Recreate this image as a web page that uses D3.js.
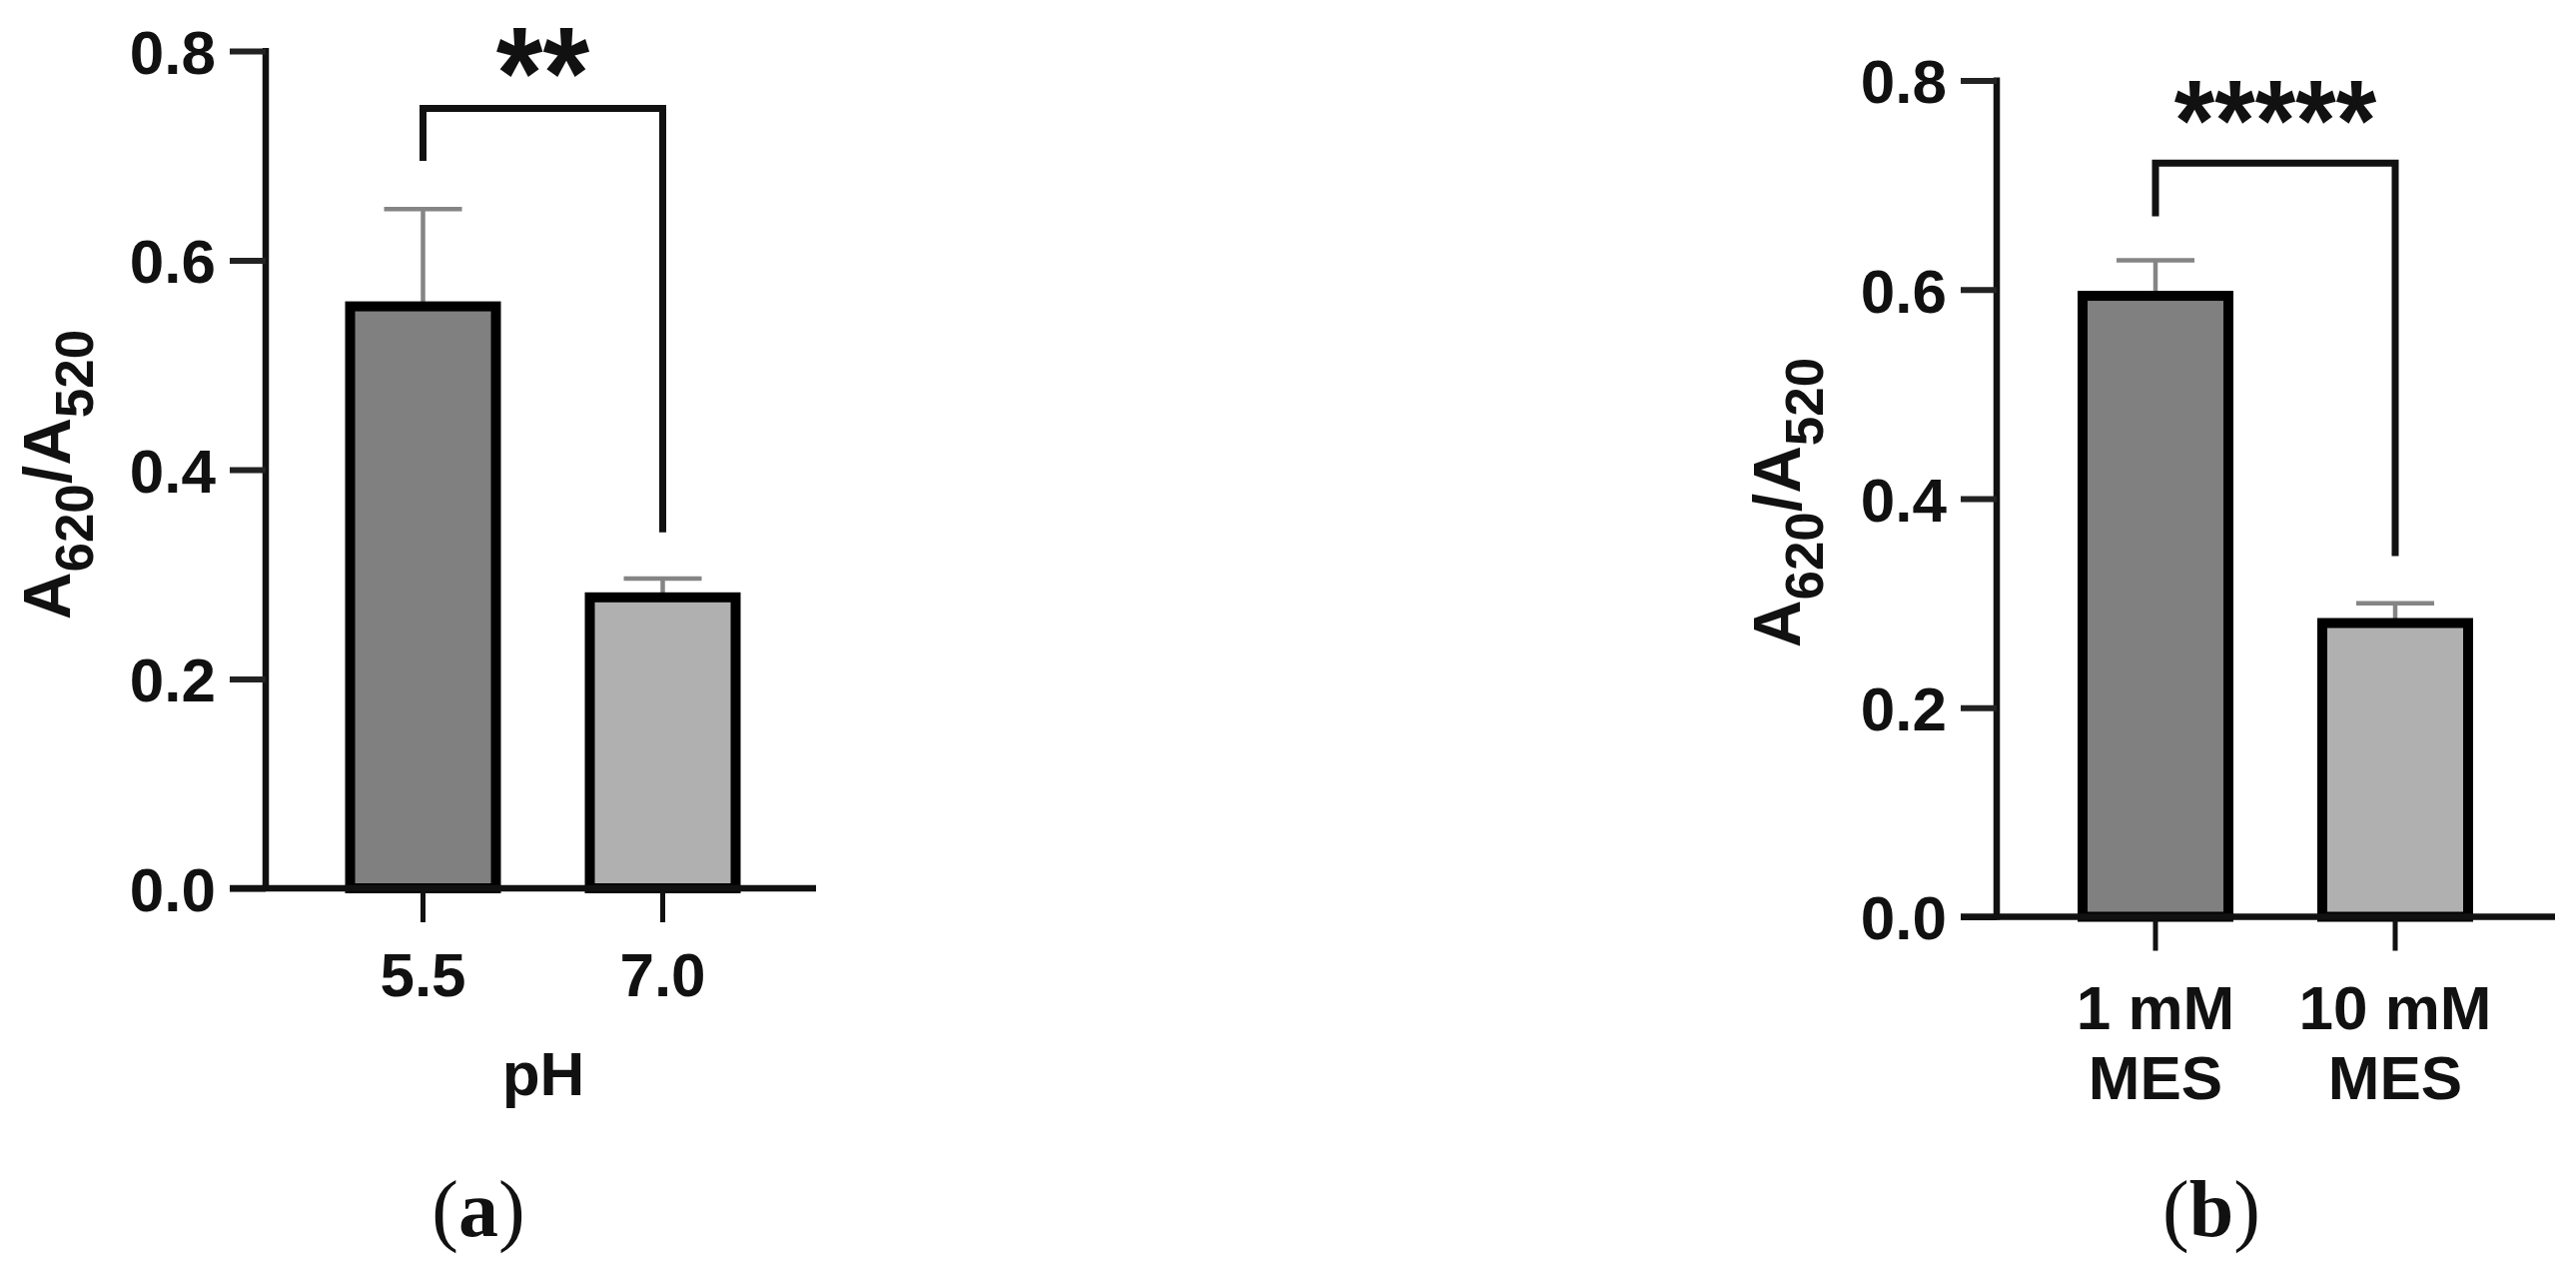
<!DOCTYPE html>
<html>
<head>
<meta charset="utf-8">
<script src="https://cdn.jsdelivr.net/npm/d3@7"></script>
<style>
  html, body { margin: 0; padding: 0; background: #fff; }
  svg { display: block; }
  text { font-family: "Liberation Sans", Arial, sans-serif; font-weight: bold; fill: #111; }
</style>
</head>
<body>
<script>
// ---------- data ----------
const yTicks = [0, 0.2, 0.4, 0.6, 0.8];
const barFills = ["#808080", "#b0b0b0"];

const catsA = ["5.5", "7.0"];
const meansA = [0.556, 0.278];
const sdA = [0.093, 0.018];
const sigA = "**";
// bracket: [y of bar, y of left leg end, y of right leg end]
const bracketA = [0.745, 0.695, 0.340];
const xTitleA = "pH";

const catsB = ["1 mM|MES", "10 mM|MES"];
const meansB = [0.594, 0.281];
const sdB = [0.034, 0.019];
const sigB = "*****";
const bracketB = [0.721, 0.670, 0.345];

// ---------- layout ----------
const W = 2579, H = 1282;
const svg = d3.select("body").append("svg").attr("width", W).attr("height", H);

function panel(o) {
  const g = svg.append("g");
  const y = d3.scaleLinear().domain([0, 0.8]).range([o.y0, o.y8]);
  const x = d3.scaleBand().domain(o.cats)
    .range([o.c1 - 120, o.c2 + 120])
    .paddingInner(1 - 146 / 240).paddingOuter((1 - 146 / 240) / 2);

  const data = o.cats.map((c, i) => ({ c, m: o.means[i], s: o.sd[i], f: barFills[i] }));
  g.selectAll("line.err").data(data).join("line")
    .attr("x1", d => x(d.c) + x.bandwidth() / 2).attr("x2", d => x(d.c) + x.bandwidth() / 2)
    .attr("y1", d => y(d.m)).attr("y2", d => y(d.m + d.s))
    .attr("stroke", "#858585").attr("stroke-width", 4.5);
  g.selectAll("line.cap").data(data).join("line")
    .attr("x1", d => x(d.c) + x.bandwidth() / 2 - 39).attr("x2", d => x(d.c) + x.bandwidth() / 2 + 39)
    .attr("y1", d => y(d.m + d.s)).attr("y2", d => y(d.m + d.s))
    .attr("stroke", "#858585").attr("stroke-width", 4.5);
  g.selectAll("rect.bar").data(data).join("rect")
    .attr("x", d => x(d.c)).attr("width", x.bandwidth())
    .attr("y", d => y(d.m)).attr("height", d => y(0) - y(d.m))
    .attr("fill", d => d.f).attr("stroke", "#000").attr("stroke-width", 10);

  // y axis
  const ya = g.append("g").attr("transform", `translate(${o.ax},0)`)
    .call(d3.axisLeft(y).tickValues(yTicks).tickFormat(d3.format(".1f"))
      .tickSize(36).tickSizeOuter(0).tickPadding(14));
  ya.selectAll("path.domain").attr("stroke", "#111").attr("stroke-width", 6.5)
    .attr("d", `M0,${y(0.8) - 3}V${y(0) + 3}`);
  ya.selectAll(".tick line").attr("stroke", "#222").attr("stroke-width", 6);
  ya.selectAll(".tick text").attr("font-size", o.fs).attr("dy", "0.36em").attr("fill", "#111");

  // x axis
  const xa = g.append("g").attr("transform", `translate(0,${y(0)})`)
    .call(d3.axisBottom(x).tickSize(34).tickSizeOuter(0).tickPadding(0));
  xa.select("path.domain").attr("stroke", "#111").attr("stroke-width", 6.5)
    .attr("d", `M${o.ax - 36},0H${o.xEnd}`);
  xa.selectAll(".tick line").attr("stroke", "#111").attr("stroke-width", 5);
  xa.selectAll(".tick text").each(function (d) {
    const t = d3.select(this).text(null).attr("font-size", o.fs).attr("fill", "#111")
      .attr("y", o.lab1).attr("dy", 0);
    d.split("|").forEach((s, i) => {
      t.append("tspan").attr("x", 0).attr("y", o.lab1 + i * 70).text(s);
    });
  });

  // y title
  const yt = g.append("text")
    .attr("transform", `translate(${o.ytX},${o.ytY}) rotate(-90)`)
    .attr("text-anchor", "middle").attr("font-size", 66);
  yt.append("tspan").text("A");
  yt.append("tspan").attr("font-size", 53).attr("dy", 23).text("620");
  yt.append("tspan").attr("dy", -23).text("/A");
  yt.append("tspan").attr("font-size", 53).attr("dy", 23).text("520");

  // x title
  if (o.xTitle) {
    g.append("text").attr("x", o.xtX).attr("y", o.xtY).attr("text-anchor", "middle")
      .attr("font-size", 62).text(o.xTitle);
  }

  // significance bracket
  const xl = x(o.cats[0]) + x.bandwidth() / 2, xr = x(o.cats[1]) + x.bandwidth() / 2;
  const by = y(o.br[0]);
  g.append("path")
    .attr("d", `M${xl},${y(o.br[1])}V${by}H${xr}V${y(o.br[2])}`)
    .attr("fill", "none").attr("stroke", "#111").attr("stroke-width", 7);
  const cx = (xl + xr) / 2;
  g.append("text").attr("x", cx).attr("y", by + o.starDy)
    .attr("text-anchor", "middle").attr("font-size", o.starFs)
    .attr("transform", `translate(${cx},${by}) scale(1,${o.starSy}) translate(${-cx},${-by})`)
    .text(o.sig);

  // panel label
  const pl = svg.append("text").attr("x", o.plX).attr("y", 1237).attr("text-anchor", "middle")
    .style("font-family", '"Liberation Serif", "Times New Roman", serif').attr("font-size", 80)
    .attr("font-weight", "normal");
  pl.append("tspan").attr("font-weight", "normal").text("(");
  pl.append("tspan").attr("font-weight", "bold").text(o.pl);
  pl.append("tspan").attr("font-weight", "normal").text(")");
}

panel({
  cats: catsA, means: meansA, sd: sdA, sig: sigA, br: bracketA,
  y0: 889, y8: 51, c1: 423.5, c2: 663.5, ax: 266, xEnd: 817, fs: 62,
  lab1: 108, ytX: 70, ytY: 475, xTitle: xTitleA, xtX: 544, xtY: 1096,
  starFs: 120, starDy: 9, starSy: 1.1, pl: "a", plX: 479
});
panel({
  cats: catsB, means: meansB, sd: sdB, sig: sigB, br: bracketB,
  y0: 917.5, y8: 80.5, c1: 2158, c2: 2398, ax: 1999, xEnd: 2558, fs: 62,
  lab1: 112, ytX: 1802, ytY: 503, xTitle: null,
  starFs: 104, starDy: -3, starSy: 1.1, pl: "b", plX: 2214
});
</script>
</body>
</html>
